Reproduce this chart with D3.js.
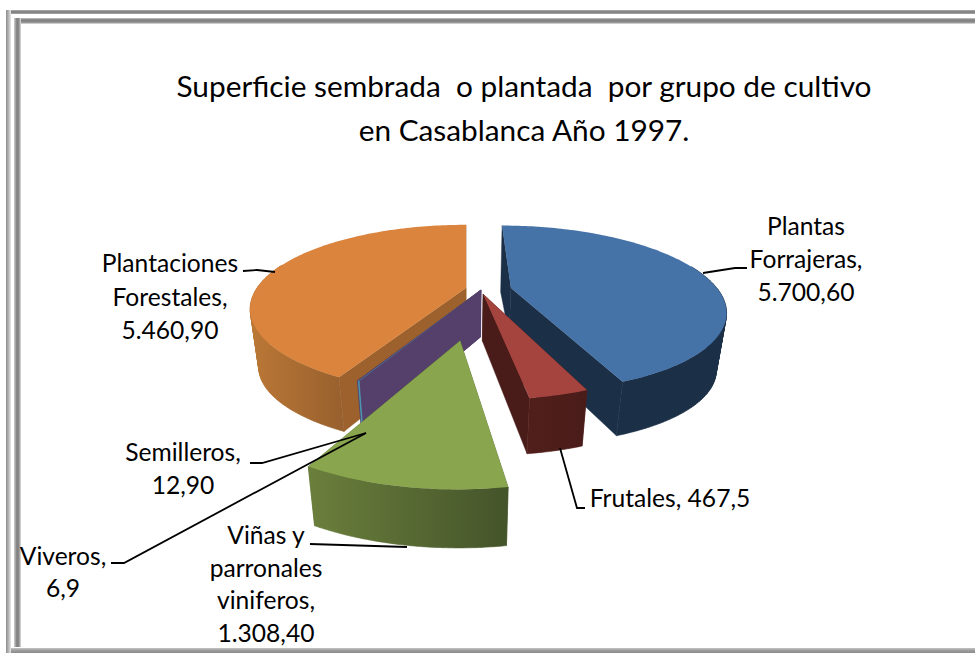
<!DOCTYPE html>
<html>
<head>
<meta charset="utf-8">
<script src="https://cdn.jsdelivr.net/npm/d3@7"></script>
<style>
html,body{margin:0;padding:0;background:#fff;}
svg{display:block;}
text{font-family:Lato,"Open Sans",sans-serif;fill:#000;}
</style>
</head>
<body>
<script>
const categories = ["Plantas Forrajeras","Frutales","Viñas y parronales viniferos","Viveros","Semilleros","Plantaciones Forestales"];
const values = [5700.6,467.5,1308.4,6.9,12.9,5460.9];
const valueLabels = ["5.700,60","467,5","1.308,40","6,9","12,90","5.460,90"];
const titleLines = ["Superficie sembrada  o plantada  por grupo de cultivo","en Casablanca Año 1997."];

const W = 975, H = 653;
const svg = d3.select("body").append("svg").attr("width",W).attr("height",H);
const defs = svg.append("defs");

/* ---- frame ---- */
function vGrad(id,stops,horizontal){
  const g = defs.append("linearGradient").attr("id",id)
    .attr("x1",0).attr("y1",0).attr("x2",horizontal?1:0).attr("y2",horizontal?0:1);
  stops.forEach(s=>g.append("stop").attr("offset",s[0]).attr("stop-color",s[1]));
}
vGrad("fT",[[0,"#bdbdbd"],[.25,"#858585"],[.8,"#858585"],[1,"#c8c8c8"]]);
vGrad("fT2",[[0,"#c8c8c8"],[.3,"#7f7f7f"],[.7,"#8a8a8a"],[1,"#e6e6e6"]]);
vGrad("fL",[[0,"#8c8c8c"],[.5,"#b5b5b5"],[1,"#e8e8e8"]],true);
vGrad("fL2",[[0,"#d0d0d0"],[.4,"#808080"],[.7,"#8a8a8a"],[1,"#e2e2e2"]],true);
vGrad("fB",[[0,"#c4c4c4"],[.5,"#9c9c9c"],[1,"#8a8a8a"]]);
const frame = svg.append("g");
frame.append("rect").attr("x",6).attr("y",10).attr("width",W-6).attr("height",4).attr("fill","url(#fT)");
frame.append("rect").attr("x",6).attr("y",10).attr("width",5).attr("height",H-10).attr("fill","url(#fL)");
frame.append("rect").attr("x",14).attr("y",18).attr("width",W-14).attr("height",6).attr("fill","url(#fT2)");
frame.append("rect").attr("x",14).attr("y",18).attr("width",7).attr("height",H-24).attr("fill","url(#fL2)");
frame.append("rect").attr("x",11).attr("y",648).attr("width",W-11).attr("height",5).attr("fill","url(#fB)");

/* ---- title ---- */
svg.append("g").selectAll("text").data(titleLines).join("text")
  .attr("x",524).attr("y",(d,i)=>97+i*44).attr("text-anchor","middle")
  .attr("font-size",29.8).style("white-space","pre").text(d=>d);

/* ---- 3D pie ---- */
const pie = d3.pie().sort(null).value(d=>d.value).startAngle(0).endAngle(2*Math.PI);
const arcs = pie(categories.map((c,i)=>({name:c,value:values[i]})));

// perspective of the tilted plane
const P = 0.25, R = 209, RT = 79, VX = 466, Y0 = 288;
const px = d3.scaleLinear().domain([0,1]).range([VX,VX+R]);
const py = d3.scaleLinear().domain([0,1]).range([Y0,Y0-RT]);
// per slice: explosion offset of the apex in plane units, radius factor, extra depth, colours (left, right of the wall)
const sliceStyle = [
 {ox:.215, oy:.0,   k:.985,dz:0, top:"#4572a7", face:"#1b2f47", wall:["#1b2f47","#1b2f47"]},
 {ox:.08,  oy:-.075,k:.97, dz:2, top:"#a5443f", face:"#4a1c19", wall:["#511f1b","#4a1c19"]},
 {ox:-.024,oy:-.572,k:.985,dz:5, top:"#89a54e", face:"#5a6d33", wall:["#6b7f3c","#44542a"]},
 {ox:.07,  oy:-.025,k:1,   dz:0, top:"#4aa0b8", face:"#54406a", wall:["#4aa0b8","#4aa0b8"]},
 {ox:.072, oy:-.025,k:1,   dz:0, top:"#54406a", face:"#54406a", wall:["#54406a","#54406a"]},
 {ox:0,    oy:0,    k:1,   dz:0, top:"#db843d", face:"#9c612c", wall:["#bb7836","#98602e"]}
];
function proj(s,a,r,z){
  const x = s.ox + r*s.k*Math.sin(a), y = s.oy + r*s.k*Math.cos(a);
  const w = 1 + P*y;
  let X = px(x/w), Y = py(y/w);
  if(z){ X = VX + (X-VX)*(1-.04*z); Y += z*(47 + s.dz*r + r*(13+6.5*Math.cos(a))); }
  return [X,Y];
}
const line = d3.line();
const sampleAngles = (a0,a1)=>{
  const n = Math.max(1,Math.ceil((a1-a0)/0.02));
  return d3.range(n+1).map(i=>a0+(a1-a0)*i/n);
};
const pieG = svg.append("g");
// back to front
[5,0,4,3,1,2].forEach(i=>{
  const d = arcs[i], s = sliceStyle[i], g = pieG.append("g");
  const as = sampleAngles(d.startAngle,d.endAngle);
  const rim = as.map(a=>proj(s,a,1,0));
  const rimB = as.map(a=>proj(s,a,1,1));
  const faceOf = a => line([proj(s,0,0,0),proj(s,a,1,0),proj(s,a,1,1),proj(s,0,0,1)])+"Z";
  [d.startAngle,d.endAngle].forEach(a=>
    g.append("path").attr("d",faceOf(a)).attr("fill",s.face).attr("stroke",s.face).attr("stroke-width",.4));
  // the wall: one union of same-orientation quads on the viewer's side of the rim
  vGrad("wall"+i,[[0,s.wall[0]],[1,s.wall[1]]],true);
  const quads = d3.range(rim.length-1).filter(j=>Math.cos(as[j])<.3).map(j=>{
    const q = [rim[j],rim[j+1],rimB[j+1],rimB[j]];
    return line(d3.polygonArea(q)<0 ? q.reverse() : q)+"Z";
  }).join("");
  g.append("path").attr("d",quads).attr("fill",`url(#wall${i})`)
    .attr("stroke",`url(#wall${i})`).attr("stroke-width",.6);
  g.append("path").attr("d",line([proj(s,0,0,0)].concat(rim))+"Z").attr("fill",s.top);
});

/* ---- labels ---- */
const labelLayout = [
 {x:806,y:235,lh:33,lines:["Plantas","Forrajeras,",valueLabels[0]],lead:[[703,273],[735,268],[747,268]]},
 {x:670,y:507,lh:33,lines:["Frutales, "+valueLabels[1]],lead:[[560,448],[577,508],[585,508]]},
 {x:266,y:544,lh:32.5,lines:["Viñas y","parronales","viniferos,",valueLabels[2]],lead:[[310,544],[407,547]]},
 {x:63,y:565,lh:32,lines:["Viveros,",valueLabels[3]],lead:[[111,563],[124,563],[366,433]]},
 {x:183,y:461,lh:33,lines:["Semilleros,",valueLabels[4]],lead:[[250,463],[262,463],[366,433]]},
 {x:170,y:272,lh:33.5,lines:["Plantaciones","Forestales,",valueLabels[5]],lead:[[243,271],[257,270],[275,272]]}
];
const lab = svg.append("g");
labelLayout.forEach(l=>{
  lab.append("path").attr("d",line(l.lead)).attr("fill","none").attr("stroke","#000").attr("stroke-width",1.8);
  lab.append("g").selectAll("text").data(l.lines).join("text")
    .attr("x",l.x).attr("y",(d,i)=>l.y+i*l.lh).attr("text-anchor","middle")
    .attr("font-size",24.6).text(d=>d);
});
</script>
</body>
</html>
